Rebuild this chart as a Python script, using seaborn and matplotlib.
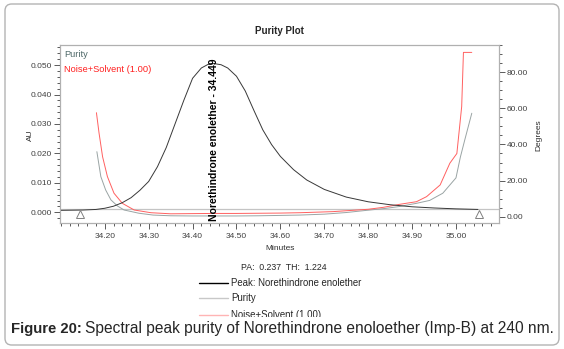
import numpy as np
import pandas as pd
import matplotlib
matplotlib.use("Agg")
import matplotlib.pyplot as plt
from matplotlib.ticker import MultipleLocator, FormatStrFormatter
from matplotlib.patches import Rectangle, FancyBboxPatch
from matplotlib.lines import Line2D
import seaborn as sns

# peak trace (AU, left axis)
peak_x = [34.10, 34.15, 34.18, 34.20, 34.22, 34.24, 34.26, 34.28, 34.30, 34.32, 34.34, 34.36,
          34.38, 34.40, 34.42, 34.435, 34.449, 34.465, 34.48, 34.50, 34.52, 34.54, 34.56, 34.58,
          34.60, 34.63, 34.66, 34.70, 34.75, 34.80, 34.85, 34.90, 34.95, 35.00, 35.05]
peak_au = [0.0007, 0.0008, 0.0010, 0.0014, 0.0021, 0.0033, 0.0050, 0.0075, 0.0105, 0.0155, 0.0220, 0.0300,
           0.0380, 0.0455, 0.0490, 0.0502, 0.0505, 0.0501, 0.0490, 0.0462, 0.0412, 0.0345, 0.0280, 0.0230,
           0.0190, 0.0145, 0.0110, 0.0078, 0.0052, 0.0036, 0.0026, 0.0019, 0.0015, 0.0012, 0.0010]

# purity angle (Degrees, right axis)
pur_x = [34.182, 34.191, 34.202, 34.214, 34.229, 34.244, 34.278, 34.31, 34.35, 34.40, 34.45, 34.50,
         34.55, 34.60, 34.645, 34.70, 34.75, 34.80, 34.84, 34.87, 34.91, 34.94, 34.97, 35.00,
         35.01, 35.02, 35.036]
pur_deg = [36.0, 22.2, 14.8, 9.3, 5.9, 3.7, 1.9, 0.9, 0.5, 0.4, 0.4, 0.4,
           0.5, 0.7, 0.9, 1.4, 2.3, 3.6, 4.6, 5.6, 7.4, 9.0, 13.0, 21.5,
           33.0, 42.5, 57.3]

# noise + solvent threshold (Degrees, right axis)
noise_x = [34.181, 34.187, 34.195, 34.206, 34.221, 34.24, 34.267, 34.305, 34.35, 34.40, 34.45, 34.50,
           34.55, 34.60, 34.645, 34.72, 34.80, 34.835, 34.873, 34.91, 34.933, 34.964, 34.986, 35.002,
           35.013, 35.017, 35.036]
noise_deg = [57.6, 46.2, 33.2, 22.2, 13.0, 7.4, 3.7, 2.2, 1.6, 1.7, 1.8, 1.8,
             1.9, 2.0, 2.2, 2.8, 4.1, 5.2, 6.9, 8.3, 11.1, 17.6, 29.6, 35.0,
             61.0, 91.0, 91.0]

thresh_x = [34.10, 35.10]
thresh_deg = [4.3, 4.3]

marker_x = [34.143, 35.052]
marker_au = [-0.0006, -0.0006]

peak_label = "Norethindrone enolether - 34.449"
stats_label = "PA:  0.237  TH:  1.224"
legend_labels = ["Peak: Norethindrone enolether", "Purity", "Noise+Solvent (1.00)"]

sns.set_style("white")
plt.rcParams['font.family'] = ['Liberation Sans', 'DejaVu Sans']

W, H = 564, 349
fig = plt.figure(figsize=(W / 100, H / 100), dpi=100)
ax = fig.add_axes([60 / W, 1 - 223 / H, 439 / W, 178 / H])
ax2 = ax.twinx()

sns.lineplot(x=thresh_x, y=thresh_deg, ax=ax2, color="#c4c4c4", lw=0.9)
sns.lineplot(x=pur_x, y=pur_deg, ax=ax2, color="#9aa4a4", lw=0.7)
sns.lineplot(x=noise_x, y=noise_deg, ax=ax2, color="#ff6060", lw=0.7)
sns.lineplot(x=peak_x, y=peak_au, ax=ax, color="#383838", lw=0.7)
ax.plot(marker_x, marker_au, ls="none", marker="^", ms=6, mfc="white", mec="#808080", mew=0.7)

ax.set_zorder(ax2.get_zorder() + 1)
ax.patch.set_visible(False)

ax.set_xlim(34.098, 35.098)
ax.set_ylim(-0.0036, 0.0568)
ax2.set_ylim(-3.5, 95.1)

ax.set_xticks(np.round(np.arange(34.2, 35.01, 0.1), 2))
ax.xaxis.set_minor_locator(MultipleLocator(0.02))
ax.xaxis.set_major_formatter(FormatStrFormatter("%.2f"))
ax.set_yticks(np.round(np.arange(0, 0.051, 0.01), 3))
ax.yaxis.set_minor_locator(MultipleLocator(0.002))
ax.yaxis.set_major_formatter(FormatStrFormatter("%.3f"))
ax2.set_yticks([0, 20, 40, 60, 80])
ax2.yaxis.set_minor_locator(MultipleLocator(5))
ax2.yaxis.set_major_formatter(FormatStrFormatter("%.2f"))

for a in (ax, ax2):
    for s in a.spines.values():
        s.set_color("#b0b0b0")
        s.set_linewidth(0.8)
    a.tick_params(which="both", direction="out", colors="#404040", labelsize=6, pad=1.5)
    a.tick_params(which="major", length=4, width=0.6)
    a.tick_params(which="minor", length=2.5, width=0.6)
    a.set_xlabel("")
    a.set_ylabel("")
ax2.tick_params(axis="y", which="both", left=False, right=True)
ax.tick_params(axis="y", which="both", left=True, right=False)
ax.tick_params(axis="x", which="both", bottom=True, pad=3.5)

ax.text(34.449, -0.0029, peak_label, rotation=90, ha="center", va="bottom",
        fontsize=7.5, fontweight="bold", color="black")
ax.text(0.009, 0.949, "Purity", transform=ax.transAxes, ha="left", va="center",
        fontsize=6.7, color="#506a6a")
ax.text(0.009, 0.86, "Noise+Solvent (1.00)", transform=ax.transAxes, ha="left", va="center",
        fontsize=6.7, color="#ff2020")

fig.text(279.5 / W, 1 - 31 / H, "Purity Plot", ha="center", va="center", fontsize=7, fontweight="bold")
fig.text(280 / W, 1 - 248 / H, "Minutes", ha="center", va="center", fontsize=6, color="#303030")
fig.text(30 / W, 1 - 135 / H, "AU", ha="center", va="center", rotation=90, fontsize=6, color="#303030")
fig.text(539 / W, 1 - 135 / H, "Degrees", ha="center", va="center", rotation=90, fontsize=6, color="#303030")

# bottom legend
fig.text(284 / W, 1 - 267 / H, stats_label, ha="center", va="center", fontsize=6.3)
leg_colors = ["black", "#c8c8c8", "#ffb4b4"]
leg_y = [283, 298, 315]
for lab, c, yy in zip(legend_labels, leg_colors, leg_y):
    fig.add_artist(Line2D([199 / W, 228 / W], [1 - yy / H, 1 - yy / H], color=c, lw=1.0))
    fig.text(231 / W, 1 - yy / H, lab, ha="left", va="center", fontsize=6.9)

# caption area hides the end of the legend
fig.add_artist(Rectangle((0, 0), 1, 1 - 316.5 / H, transform=fig.transFigure,
                         facecolor="white", edgecolor="none", zorder=5))
cap_y = 1 - 329 / H
t1 = fig.text(11 / W, cap_y, "Figure 20:", ha="left", va="center", fontsize=10.7,
              fontweight="bold", zorder=6)
fig.canvas.draw()
bb = t1.get_window_extent(fig.canvas.get_renderer())
fig.text((bb.x1 + 3) / W, cap_y, "Spectral peak purity of Norethindrone enoloether (Imp-B) at 240 nm.",
         ha="left", va="center", fontsize=11.2, zorder=6)

fig.add_artist(FancyBboxPatch((5 / W, 4 / H), 554 / W, 341 / H, transform=fig.transFigure,
                              boxstyle="round,pad=0,rounding_size=0.012", mutation_aspect=W / H,
                              facecolor="none", edgecolor="#b4b4b4", lw=1.0, zorder=7))

fig.savefig("out.png", dpi=100)
